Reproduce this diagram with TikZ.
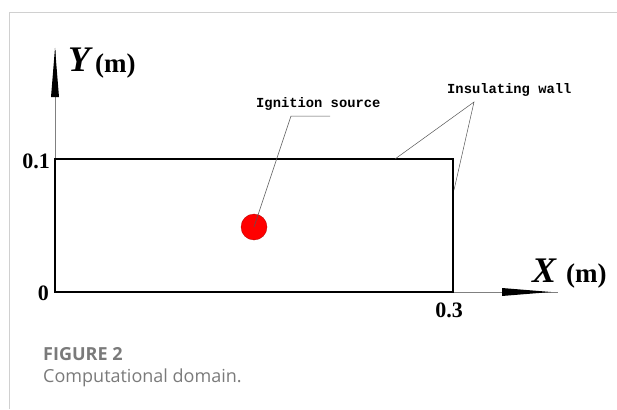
\documentclass[tikz,border=0pt]{standalone}
\usepackage{fontspec}
\setmainfont{Liberation Serif}
\newfontfamily\monof{Liberation Mono}
\newfontfamily\capf{Open Sans}
\definecolor{capgray}{HTML}{7A7A7A}
\definecolor{framegray}{HTML}{D0D0D0}
\definecolor{leadgray}{HTML}{555555}
\begin{document}
\begin{tikzpicture}[x=1pt,y=-1pt,
  wall/.style={line width=2.2pt,line join=miter},
  axisline/.style={draw=gray,line width=0.6pt},
  leader/.style={draw=leadgray,line width=0.5pt},
  tick/.style={font=\fontsize{22}{22}\selectfont\bfseries,inner sep=0pt},
  callout/.style={font=\monof\fontsize{13.8}{14}\selectfont\bfseries,inner sep=0pt,anchor=base west},
  caplabel/.style={font=\capf\fontsize{18}{18}\selectfont,text=capgray,inner sep=0pt,anchor=base west}]
\useasboundingbox (0,0) rectangle (617,409);
% frame
\draw[framegray,line width=0.8pt] (9,409) -- (9,12) -- (617,12);
% corners
\coordinate (O) at (55,292);
\coordinate (BR) at (453,292);
\coordinate (TR) at (453,159);
\coordinate (TL) at (55,159);
\coordinate (Yend) at (55,50);
\coordinate (Xend) at (558,292);
% axes
\draw[axisline] (O) -- (Yend);
\draw[axisline] (BR) -- (Xend);
\fill (55,48) -- (59,97) -- (51,97) -- cycle;
\fill (551,292) -- (502,288) -- (502,296) -- cycle;
% domain
\draw[wall] (TL) rectangle (BR);
% labels
\node[inner sep=0pt,anchor=base west] (ylab) at (68,72) {\fontsize{36}{36}\selectfont\bfseries\itshape Y};
\node[inner sep=0pt,anchor=base west] (yunit) at (95,73) {\fontsize{27}{27}\selectfont\bfseries(m)};
\node[inner sep=0pt,anchor=base west] (xlab) at (532,282) {\fontsize{36}{36}\selectfont\bfseries\itshape X};
\node[inner sep=0pt,anchor=base west] (xunit) at (566,282) {\fontsize{27}{27}\selectfont\bfseries(m)};
\node[tick,anchor=base east] (t01) at (50,168) {0.1};
\node[tick,anchor=base east] (t0) at (49,300) {0};
\node[tick,anchor=base] (t03) at (449,317) {0.3};
% ignition source
\node[circle,fill=red,draw=red!70!black,line width=0.3pt,minimum size=26pt,inner sep=0pt] (src) at (254,227) {};
\node[callout] (ign) at (256,107) {Ignition source};
\coordinate (ignk) at (291,116);
\coordinate (igne) at (330,116);
\draw[leader] (src.center) -- (ignk) -- (igne);
% insulating wall
\node[callout] (ins) at (447,93) {Insulating wall};
\coordinate (insp) at (474,102);
\coordinate (wt) at (395,159);
\coordinate (wr) at (454,190);
\draw[leader] (wt) -- (insp) -- (wr);
% caption
\node[caplabel,font=\capf\fontsize{18}{18}\selectfont\bfseries] (fig) at (43,360) {FIGURE 2};
\node[caplabel] (cap) at (43,382) {Computational domain.};
\end{tikzpicture}
\end{document}
